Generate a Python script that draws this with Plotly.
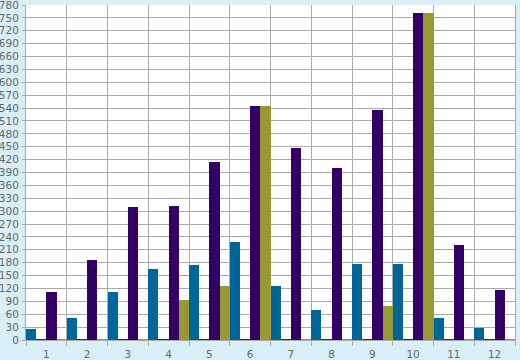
import plotly.graph_objects as go

categories = [1, 2, 3, 4, 5, 6, 7, 8, 9, 10, 11, 12]
tick_labels = [str(c) for c in categories]
y_ticks = list(range(0, 781, 30))
blue_vals = [26, 51, 112, 165, 175, 228, 126, 70, 177, 177, 51, 28]
red_vals = [1.5] * 12
purple_vals = [112, 186, 310, 312, 415, 545, 447, 401, 535, 762, 221, 116]
olive_vals = [1.5, 1.5, 1.5, 93, 126, 545, 1.5, 1.5, 79, 762, 1.5, 1.5]

series = [
    ("blue", blue_vals, "#006699"),
    ("red", red_vals, "#990000"),
    ("purple", purple_vals, "#330066"),
    ("olive", olive_vals, "#999933"),
]

fig = go.Figure()
for name, vals, col in series:
    fig.add_trace(go.Bar(x=categories, y=vals, name=name,
                         marker=dict(color=col, line=dict(width=0))))

grid = "#aaaaaa"
fig.update_layout(
    width=520, height=360,
    margin=dict(l=26, r=5, t=5, b=20),
    paper_bgcolor="#d9eff7",
    plot_bgcolor="#ffffff",
    barmode="group", bargap=0, bargroupgap=0,
    showlegend=False,
    font=dict(family="DejaVu Sans", size=10.5, color="#666666"),
    xaxis=dict(
        range=[0.5, 12.5], automargin=False,
        tickmode="array", tickvals=categories, ticktext=tick_labels,
        showgrid=False, ticks="", showline=True, linecolor=grid, linewidth=1,
        mirror=False, zeroline=False, ticklabelstandoff=4,
        minor=dict(tick0=0.5, dtick=1, showgrid=True, gridcolor=grid,
                   gridwidth=1, ticks="outside", ticklen=5, tickcolor=grid,
                   tickwidth=1),
    ),
    yaxis=dict(
        range=[0, 780], automargin=False,
        tickmode="array", tickvals=y_ticks, ticktext=[str(v) for v in y_ticks],
        showgrid=True, gridcolor=grid, gridwidth=1,
        showline=True, linecolor=grid, linewidth=1, mirror=True,
        zeroline=False, ticks="outside", ticklen=3, tickcolor=grid,
        ticklabelstandoff=1, ticklabeloverflow="allow",
    ),
)

fig.write_html("out.html")
